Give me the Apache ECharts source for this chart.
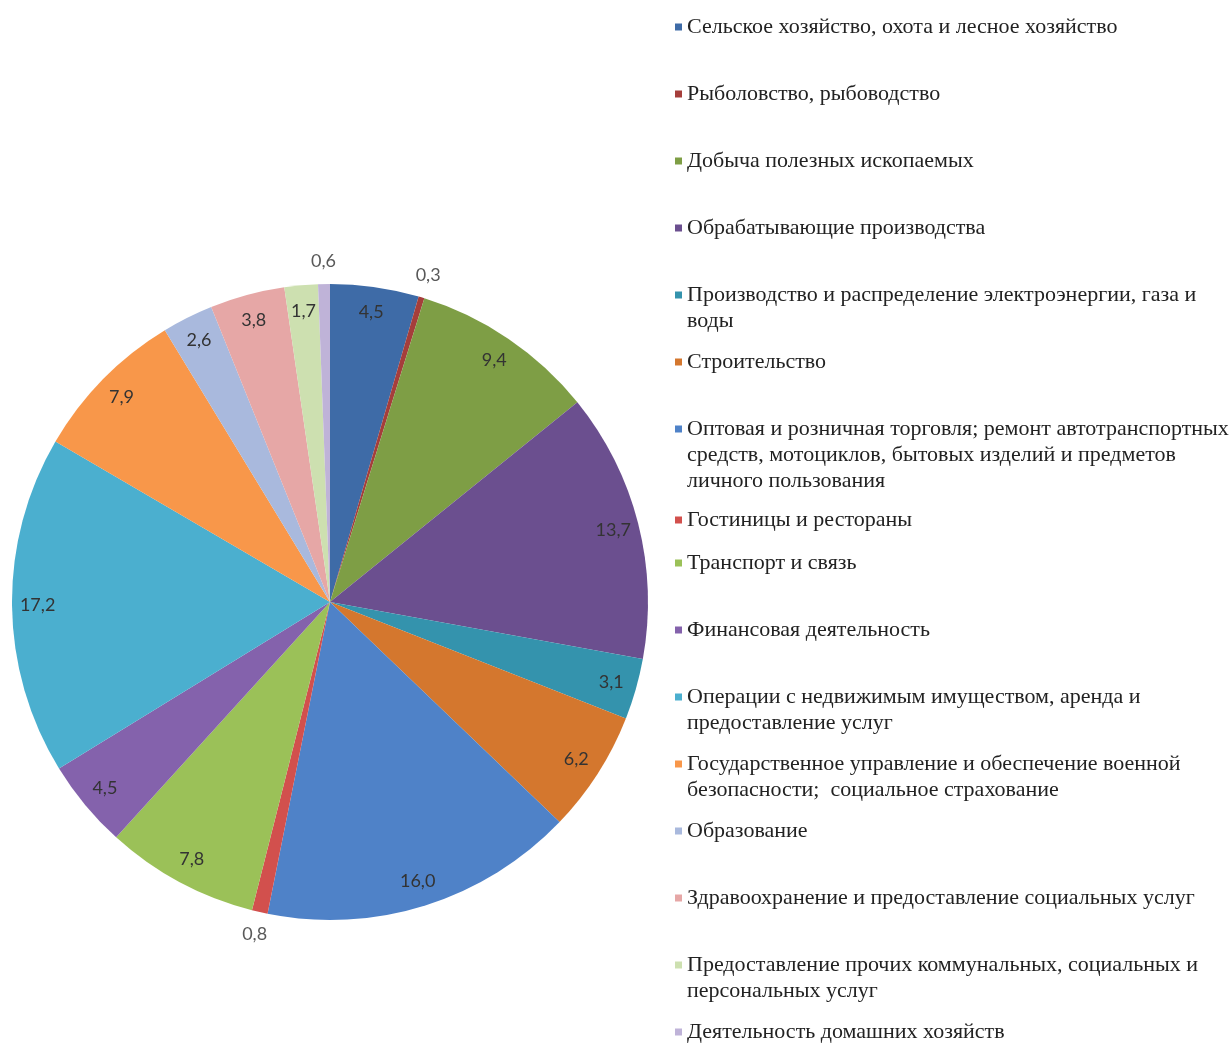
<!DOCTYPE html>
<html>
<head>
<meta charset="utf-8">
<script src="https://cdn.jsdelivr.net/npm/echarts@6/dist/echarts.min.js"></script>
<style>
html,body{margin:0;padding:0;background:#fff;}
#chart{width:1230px;height:1045px;}
</style>
</head>
<body>
<div id="chart"></div>
<script>
// ---- data ----
const categories = [
  'Сельское хозяйство, охота и лесное хозяйство',
  'Рыболовство, рыбоводство',
  'Добыча полезных ископаемых',
  'Обрабатывающие производства',
  'Производство и распределение электроэнергии, газа и\nводы',
  'Строительство',
  'Оптовая и розничная торговля; ремонт автотранспортных\nсредств, мотоциклов, бытовых изделий и предметов\nличного пользования',
  'Гостиницы и рестораны',
  'Транспорт и связь',
  'Финансовая деятельность',
  'Операции с недвижимым имуществом, аренда и\nпредоставление услуг',
  'Государственное управление и обеспечение военной\nбезопасности;  социальное страхование',
  'Образование',
  'Здравоохранение и предоставление социальных услуг',
  'Предоставление прочих коммунальных, социальных и\nперсональных услуг',
  'Деятельность домашних хозяйств'
];
const values = [4.5, 0.3, 9.4, 13.7, 3.1, 6.2, 16.0, 0.8, 7.8, 4.5, 17.2, 7.9, 2.6, 3.8, 1.7, 0.6];
const colors = ['#3E6BA7','#A53E3B','#7E9E45','#6B4F8F','#3493AD','#D4772E','#4F82C8','#D2504D',
                '#9BC158','#8462AC','#4BAFCF','#F8974A','#A9B9DD','#E6A7A6','#CDE0B0','#BFB3D8'];

// ---- layout ----
const CX = 330, CY = 602, R = 318;
const fmt = v => v.toFixed(1).replace('.', ',');
const SMALL = 1; // slices below this get their label outside

const chart = echarts.init(document.getElementById('chart'), null, {renderer: 'canvas'});

// legends: one per entry so each sits on its own slot
const LH = 26, SLOT = 67, FIRST = 27, MINGAP = 39, FS = 22;
const legends = [];
let prevLast = -1e9;
categories.forEach((name, i) => {
  const n = name.split('\n').length;
  const y = Math.max(FIRST + SLOT * i, prevLast + MINGAP);
  prevLast = y + (n - 1) * LH;
  legends.push({
    orient: 'vertical',
    left: 675,
    top: y - (2 * n - 1) * LH / 2,
    padding: 0,
    icon: 'rect',
    itemWidth: 7,
    itemHeight: 7,
    itemGap: 0,
    selectedMode: false,
    data: [{name: name, itemStyle: {color: colors[i]}}],
    formatter: nm => nm.split('\n').map(s => '{t|' + s + '}').join('\n'),
    textStyle: {
      fontFamily: 'Liberation Serif',
      fontSize: FS,
      lineHeight: LH,
      color: '#222',
      padding: [(n - 1) * LH, 0, 0, 0],
      backgroundColor: 'rgba(255,255,255,0)',
      rich: {
        t: {fontFamily: 'Liberation Serif', fontSize: FS, lineHeight: LH, color: '#222'}
      }
    }
  });
});

const pieData = categories.map((c, i) => ({name: c, value: values[i], itemStyle: {color: colors[i]}}));
const ghost = (showFn) => categories.map((c, i) => ({
  name: c, value: values[i],
  itemStyle: {color: 'rgba(0,0,0,0)'},
  label: {show: showFn(values[i])}
}));

chart.setOption({
  backgroundColor: '#ffffff',
  animation: false,
  legend: legends,
  series: [
    {
      type: 'pie', center: [CX, CY], radius: [0, R],
      startAngle: 90, clockwise: true,
      label: {show: false}, labelLine: {show: false},
      itemStyle: {borderWidth: 0},
      emphasis: {disabled: true},
      data: pieData
    },
    {
      type: 'pie', center: [CX, CY], radius: [R * 0.82, R],
      startAngle: 90, clockwise: true, silent: true,
      emphasis: {disabled: true},
      label: {position: 'inside', formatter: p => fmt(p.value),
              fontFamily: 'Lato', fontSize: 18, color: '#333'},
      labelLine: {show: false},
      data: ghost(v => v >= SMALL)
    },
    {
      type: 'pie', center: [CX, CY], radius: [R, R + 40],
      startAngle: 90, clockwise: true, silent: true,
      emphasis: {disabled: true},
      label: {position: 'inside', formatter: p => fmt(p.value),
              fontFamily: 'Lato', fontSize: 18, color: '#595959'},
      labelLine: {show: false},
      data: ghost(v => v < SMALL)
    }
  ]
});
</script>
</body>
</html>
